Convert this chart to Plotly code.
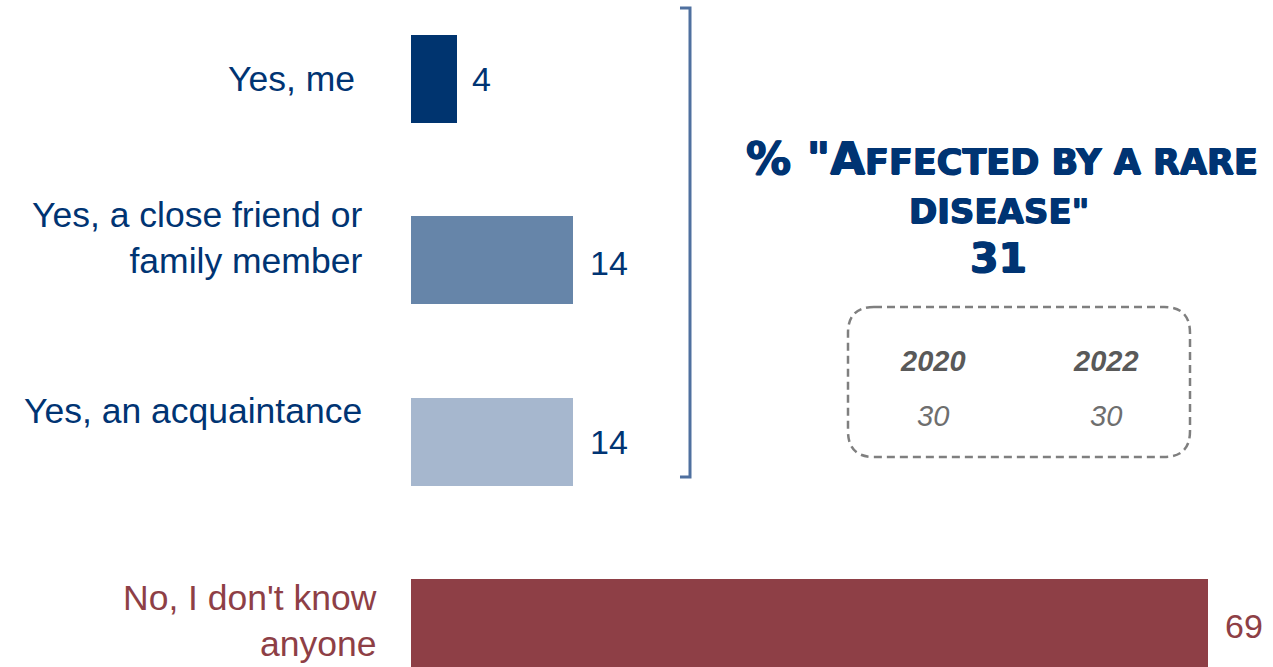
import plotly.graph_objects as go

# ---------------- data ----------------
categories = ["Yes, me", "Yes, a close friend or family member", "Yes, an acquaintance", "No, I don't know anyone"]
category_labels = ["Yes, me", "Yes, a close friend or<br>family member", "Yes, an acquaintance", "No, I don't know<br>anyone"]
values = [4, 14, 14, 69]
bar_colors = ["#00346F", "#6685A9", "#A6B7CE", "#8E3F46"]
text_colors = ["#003473", "#003473", "#003473", "#8E3F46"]

headline_value = 31
years = ["2020", "2022"]
year_values = [30, 30]

# ---------------- geometry helpers ----------------
W, H = 1273, 667


def px(x):
    return x / W


def py(y):
    return 1 - y / H


fig = go.Figure()
fig.add_trace(go.Bar(
    x=values, y=categories, orientation="h",
    marker=dict(color=bar_colors, line=dict(width=0)),
    width=0.485, hoverinfo="skip", showlegend=False,
))

FONT = "Liberation Sans, Arial, sans-serif"
annotations = []

# category labels (left)
label_right = [357, 364, 364, 379]
label_yshift = [0, 22, 31, 2]
for cat, lab, col, xr, ys in zip(categories, category_labels, text_colors, label_right, label_yshift):
    annotations.append(dict(
        x=px(xr), xref="paper", y=cat, yref="y", text=lab, showarrow=False,
        xanchor="right", yanchor="middle", align="right", yshift=ys,
        font=dict(family=FONT, size=35.5, color=col),
    ))

# value labels (right of bars)
value_xshift = [13, 15, 15, 15]
value_yshift = [0, -3, 0, -3]
for cat, v, col, xs, ys in zip(categories, values, text_colors, value_xshift, value_yshift):
    annotations.append(dict(
        x=v, xref="x", y=cat, yref="y", text=str(v), showarrow=False,
        xanchor="left", yanchor="middle", xshift=xs, yshift=ys,
        font=dict(family=FONT, size=34, color=col),
    ))

# headline block
TFONT = "DejaVu Sans, sans-serif"
NAVY = "#003473"
SHADOW = "0.7px 0 0 #003473, -0.7px 0 0 #003473, 0 0.5px 0 #003473"
annotations.append(dict(
    x=px(1002), y=py(159), xref="paper", yref="paper", showarrow=False,
    xanchor="center", yanchor="middle",
    text='% "A<span style="font-size:35px">FFECTED BY A RARE</span>',
    font=dict(family=TFONT, size=45, color=NAVY, weight="bold", shadow=SHADOW),
))
annotations.append(dict(
    x=px(999), y=py(211), xref="paper", yref="paper", showarrow=False,
    xanchor="center", yanchor="middle",
    text='DISEASE"',
    font=dict(family=TFONT, size=34, color=NAVY, weight="bold", shadow=SHADOW),
))
annotations.append(dict(
    x=px(998), y=py(258), xref="paper", yref="paper", showarrow=False,
    xanchor="center", yanchor="middle",
    text=str(headline_value),
    font=dict(family=TFONT, size=41, color=NAVY, weight="bold", shadow=SHADOW),
))

# trend box content
year_x = [933, 1106]
for yr, val, xc in zip(years, year_values, year_x):
    annotations.append(dict(
        x=px(xc), y=py(361), xref="paper", yref="paper", showarrow=False,
        xanchor="center", yanchor="middle",
        text="<b><i>%s</i></b>" % yr,
        font=dict(family=FONT, size=29, color="#595959"),
    ))
    annotations.append(dict(
        x=px(xc), y=py(416), xref="paper", yref="paper", showarrow=False,
        xanchor="center", yanchor="middle",
        text="<i>%s</i>" % val,
        font=dict(family=FONT, size=29, color="#6E6E6E"),
    ))

shapes = []
# bracket
shapes.append(dict(
    type="path", xref="paper", yref="paper",
    path="M %f %f L %f %f L %f %f L %f %f" % (px(680), py(8), px(690), py(8), px(690), py(477), px(680), py(477)),
    line=dict(color="#4F709F", width=3),
))
# dashed rounded box
x0, x1, y0, y1, r = 848, 1190, 307, 457, 26
path = (
    f"M {px(x0 + r)} {py(y0)} L {px(x1 - r)} {py(y0)} "
    f"Q {px(x1)} {py(y0)} {px(x1)} {py(y0 + r)} "
    f"L {px(x1)} {py(y1 - r)} "
    f"Q {px(x1)} {py(y1)} {px(x1 - r)} {py(y1)} "
    f"L {px(x0 + r)} {py(y1)} "
    f"Q {px(x0)} {py(y1)} {px(x0)} {py(y1 - r)} "
    f"L {px(x0)} {py(y0 + r)} "
    f"Q {px(x0)} {py(y0)} {px(x0 + r)} {py(y0)} Z"
)
shapes.append(dict(
    type="path", xref="paper", yref="paper", path=path,
    line=dict(color="#7F7F7F", width=2.5, dash="8px,5px"),
))

x_left = 411
scale = 11.55
fig.update_layout(
    width=W, height=H,
    margin=dict(l=0, r=0, t=0, b=0),
    paper_bgcolor="white", plot_bgcolor="white",
    xaxis=dict(domain=[px(x_left), 1], range=[0, (W - x_left) / scale],
               visible=False, fixedrange=True),
    yaxis=dict(type="category", categoryorder="array", categoryarray=categories,
               range=[3.243, -0.436], visible=False, fixedrange=True),
    annotations=annotations, shapes=shapes,
    bargap=0,
)

fig.write_html(
    "out.html",
    config={"displayModeBar": False},
    post_script="document.body.style.margin='0';document.body.style.overflow='hidden';",
)
